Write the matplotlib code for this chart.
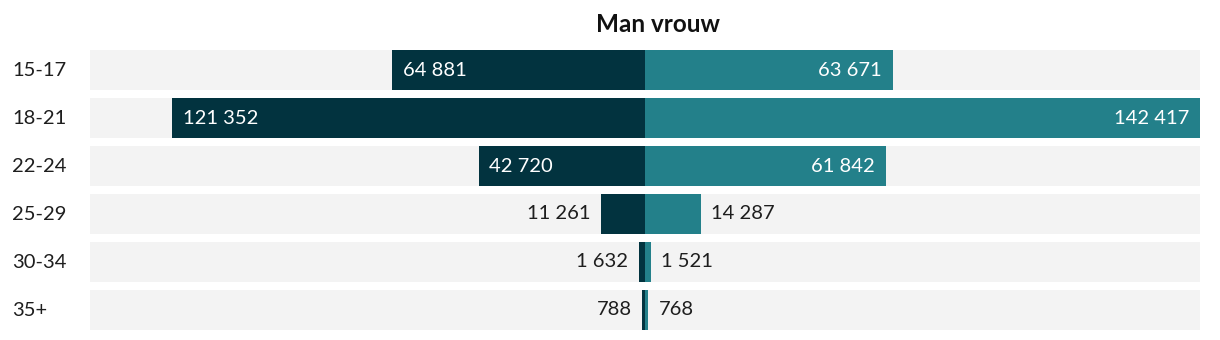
import matplotlib
matplotlib.use("Agg")
import matplotlib.pyplot as plt

categories = ["15-17", "18-21", "22-24", "25-29", "30-34", "35+"]
man = [64881, 121352, 42720, 11261, 1632, 788]
vrouw = [63671, 142417, 61842, 14287, 1521, 768]
title = "Man vrouw"

DARK = "#02333f"
TEAL = "#23808a"
BG = "#f3f3f3"
TXT = "#1e1e1e"

plt.rcParams['font.family'] = ['Lato', 'DejaVu Sans']

W, H = 1220, 340
fig = plt.figure(figsize=(W / 100, H / 100), dpi=100)
ax = fig.add_axes([90 / W, (H - 330) / H, 1110 / W, 280 / H])

vmax = max(max(man), max(vrouw))
ax.set_xlim(-vmax, vmax)
n = len(categories)
ax.set_ylim(n - 1 + 0.4167, -0.4167)
h = 40 / 48

ys = list(range(n))
ax.barh(ys, [2 * vmax] * n, left=-vmax, height=h, color=BG, zorder=1)
ax.barh(ys, [-m for m in man], height=h, color=DARK, zorder=2)
ax.barh(ys, vrouw, height=h, color=TEAL, zorder=2)

def fmt(v):
    return f"{v:,}".replace(",", " ")

fs = 14.5
thr = 30000
for i in ys:
    m = man[i]
    if m > thr:
        ax.annotate(fmt(m), (-m, i), xytext=(7.5, 0), textcoords="offset points",
                    ha="left", va="center", color="white", fontsize=fs, zorder=3)
    else:
        ax.annotate(fmt(m), (-m, i), xytext=(-7.5, 0), textcoords="offset points",
                    ha="right", va="center", color=TXT, fontsize=fs, zorder=3)
    v = vrouw[i]
    if v > thr:
        ax.annotate(fmt(v), (v, i), xytext=(-8, 0), textcoords="offset points",
                    ha="right", va="center", color="white", fontsize=fs, zorder=3)
    else:
        ax.annotate(fmt(v), (v, i), xytext=(7.5, 0), textcoords="offset points",
                    ha="left", va="center", color=TXT, fontsize=fs, zorder=3)
    fig.text(12 / W, (H - (70 + 48 * i)) / H, categories[i], ha="left", va="center",
             color=TXT, fontsize=fs)

ax.set_axis_off()
fig.text(658 / W, (H - 24) / H, title, ha="center", va="center", color="#111111",
         fontsize=17.5, fontweight="bold")

fig.savefig("out.png", dpi=100)
